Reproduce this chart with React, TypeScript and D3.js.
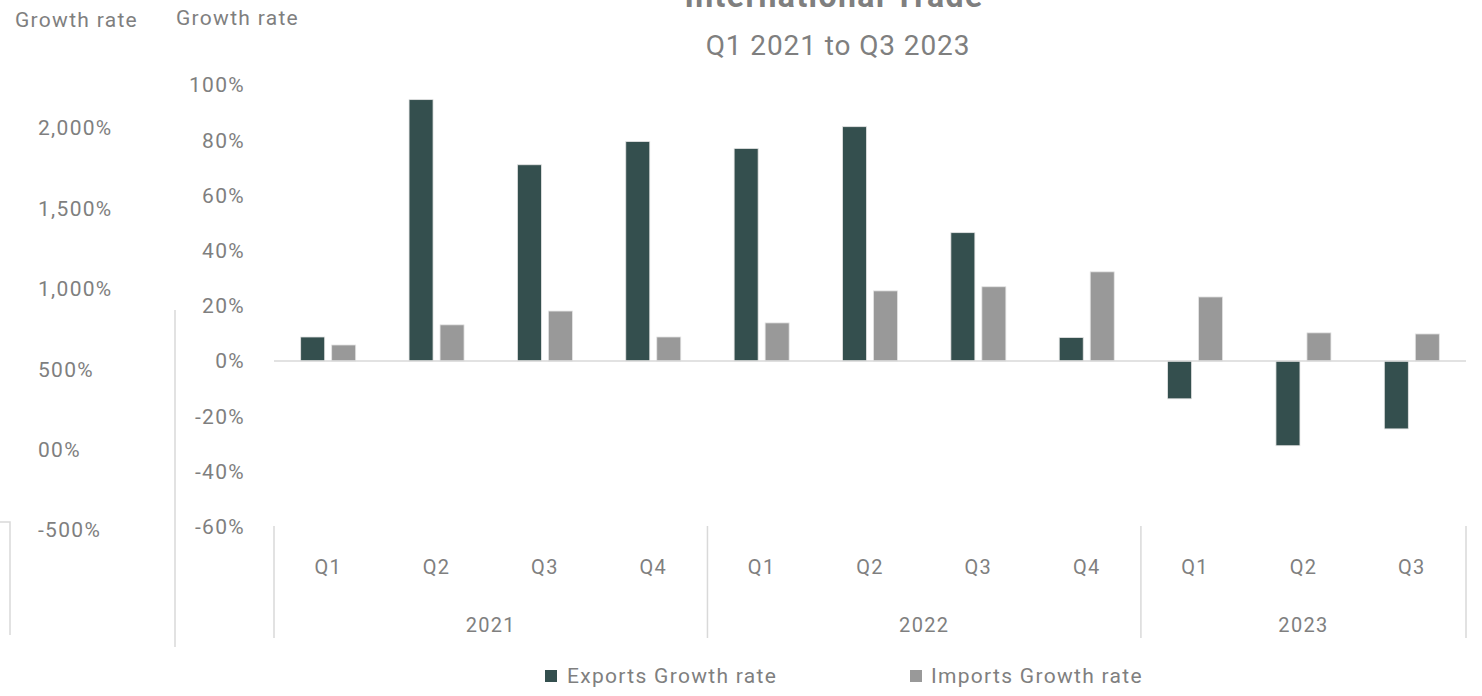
import React from "react";
import * as d3 from "d3";

const quarters = ["Q1", "Q2", "Q3", "Q4", "Q1", "Q2", "Q3", "Q4", "Q1", "Q2", "Q3"];
const years = ["2021", "2022", "2023"];
const yearSpans = [4, 4, 3];
const exportsGrowth = [8.7, 94.7, 71.1, 79.5, 77.0, 84.9, 46.5, 8.5, -13.7, -30.7, -24.6];
const importsGrowth = [5.8, 13.1, 18.1, 8.7, 13.8, 25.4, 26.9, 32.3, 23.2, 10.2, 9.8];
const rightTicks = [100, 80, 60, 40, 20, 0, -20, -40, -60];
const leftTicks = [2000, 1500, 1000, 500, 0, -500];
const leftTickLabels = ["2,000%", "1,500%", "1,000%", "500%", "00%", "-500%"];
const seriesNames = ["Exports Growth rate", "Imports Growth rate"];
const colors = ["#344f4e", "#999999"];

const W = 1482;
const H = 696;
const textColor = "#7f7f7f";
const lineColor = "#d9d9d9";
const font = "Roboto, 'Noto Sans', sans-serif";

export default function App() {
  const keys = quarters.map((_, i) => String(i));
  const x = d3.scaleBand<string>().domain(keys).range([274, 1466]).paddingInner(0).paddingOuter(0);
  const y = d3.scaleLinear().domain([-60, 100]).range([526.6, 85]);
  const yL = d3.scaleLinear().domain([-500, 2000]).range([530, 128]);
  const bw = 24;
  const step = x.step();

  const bounds: number[] = [0];
  yearSpans.forEach((s) => bounds.push(bounds[bounds.length - 1] + s));

  const textStyle = { fontFamily: font, fill: textColor, letterSpacing: "1.3px" } as const;

  return (
    <svg width={W} height={H} style={{ position: "absolute", left: 0, top: 0, background: "#fff" }}>
      {/* Titles */}
      <text x={834} y={7} textAnchor="middle" fontSize={32} fontWeight={700} style={{ ...textStyle, letterSpacing: "1.4px" }}>
        International Trade
      </text>
      <text x={838} y={55} textAnchor="middle" fontSize={28} style={{ ...textStyle, letterSpacing: "0.9px" }}>
        Q1 2021 to Q3 2023
      </text>

      {/* Axis titles */}
      <text x={15} y={27} fontSize={21} style={textStyle}>Growth rate</text>
      <text x={176} y={25} fontSize={21} style={textStyle}>Growth rate</text>

      {/* Left (secondary) axis */}
      {leftTicks.map((t, i) => (
        <text key={"l" + t} x={38} y={yL(t)} dy="0.35em" fontSize={21} style={textStyle}>
          {leftTickLabels[i]}
        </text>
      ))}
      <path d={`M0,522H10V635`} fill="none" stroke={lineColor} strokeWidth={1.5} />

      {/* Primary axis */}
      <line x1={175} x2={175} y1={310} y2={647} stroke={lineColor} strokeWidth={1.5} />
      {rightTicks.map((t) => (
        <text key={"r" + t} x={245} y={y(t)} dy="0.35em" textAnchor="end" fontSize={21} style={textStyle}>
          {t}%
        </text>
      ))}

      {/* Bars */}
      {exportsGrowth.map((v, i) => {
        const cx = (x(String(i)) as number) + step / 2;
        return (
          <rect
            key={"e" + i}
            x={cx - 27.5}
            width={bw}
            y={Math.min(y(v), y(0))}
            height={Math.abs(y(v) - y(0))}
            fill={colors[0]}
            stroke="#e4e4e4"
            strokeWidth={0.8}
          />
        );
      })}
      {importsGrowth.map((v, i) => {
        const cx = (x(String(i)) as number) + step / 2;
        return (
          <rect
            key={"m" + i}
            x={cx + 3.5}
            width={bw}
            y={Math.min(y(v), y(0))}
            height={Math.abs(y(v) - y(0))}
            fill={colors[1]}
            stroke="#e4e4e4"
            strokeWidth={0.8}
          />
        );
      })}

      {/* Zero baseline */}
      <line x1={274} x2={1466} y1={y(0)} y2={y(0)} stroke={lineColor} strokeWidth={1.5} />

      {/* Category axis */}
      {bounds.map((b) => {
        const bx = b < keys.length ? (x(String(b)) as number) : 1466;
        return <line key={"b" + b} x1={bx} x2={bx} y1={526} y2={638} stroke={lineColor} strokeWidth={1.5} />;
      })}
      {quarters.map((q, i) => (
        <text
          key={"q" + i}
          x={(x(String(i)) as number) + step / 2}
          y={567}
          dy="0.35em"
          textAnchor="middle"
          fontSize={20}
          style={textStyle}
        >
          {q}
        </text>
      ))}
      {years.map((yr, i) => {
        const x0 = x(String(bounds[i])) as number;
        const x1 = bounds[i + 1] < keys.length ? (x(String(bounds[i + 1])) as number) : 1466;
        return (
          <text key={yr} x={(x0 + x1) / 2} y={625} dy="0.35em" textAnchor="middle" fontSize={20} style={textStyle}>
            {yr}
          </text>
        );
      })}

      {/* Legend */}
      <rect x={545} y={670} width={12} height={12} fill={colors[0]} />
      <text x={567} y={676} dy="0.35em" fontSize={21} style={textStyle}>{seriesNames[0]}</text>
      <rect x={910} y={670} width={12} height={12} fill={colors[1]} />
      <text x={931} y={676} dy="0.35em" fontSize={21} style={textStyle}>{seriesNames[1]}</text>
    </svg>
  );
}
